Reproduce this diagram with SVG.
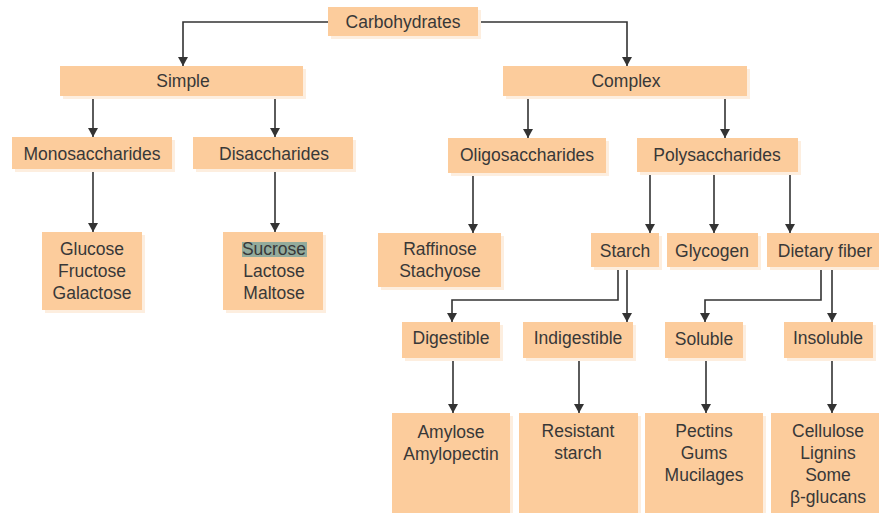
<svg xmlns="http://www.w3.org/2000/svg" width="879" height="513" viewBox="0 0 879 513">
<defs>
<marker id="ah" markerUnits="userSpaceOnUse" markerWidth="10" markerHeight="11" refX="9" refY="5" orient="auto">
<path d="M0,0 L9,5 L0,10 z" fill="#333"/>
</marker>
<style>
.b{fill:#FCCC9C}
.s{fill:#FDEEDF}
.t{font-family:"Liberation Sans",Arial,sans-serif;font-size:17.5px;fill:#383838;text-anchor:middle}
.c{fill:none;stroke:#333;stroke-width:1.6;marker-end:url(#ah)}
</style>
</defs>
<rect width="879" height="513" fill="#fff"/>
<g id="connectors">
<path class="c" d="M328,22 H183 V66"/>
<path class="c" d="M478,22 H627 V66"/>
<path class="c" d="M93,96 V137"/>
<path class="c" d="M275,96 V137"/>
<path class="c" d="M528,96 V138"/>
<path class="c" d="M725,96 V138"/>
<path class="c" d="M93,169 V232"/>
<path class="c" d="M275,169 V232"/>
<path class="c" d="M473,173 V233"/>
<path class="c" d="M650,172 V233"/>
<path class="c" d="M714,172 V233"/>
<path class="c" d="M790,172 V233"/>
<path class="c" d="M618,267 V300 H452 V322"/>
<path class="c" d="M627,267 V322"/>
<path class="c" d="M821,267 V300 H705 V322"/>
<path class="c" d="M832,267 V322"/>
<path class="c" d="M453,358 V413"/>
<path class="c" d="M579,358 V413"/>
<path class="c" d="M706,358 V413"/>
<path class="c" d="M832,358 V413"/>
</g>
<g id="carbohydrates"><rect class="s" x="331" y="10" width="150" height="29"/><rect class="b" x="328" y="7" width="150" height="29"/><text class="t" x="403" y="28">Carbohydrates</text></g>
<g id="simple"><rect class="s" x="63" y="69" width="243" height="30"/><rect class="b" x="60" y="66" width="243" height="30"/><text class="t" x="183" y="87">Simple</text></g>
<g id="complex"><rect class="s" x="506" y="69" width="244" height="30"/><rect class="b" x="503" y="66" width="244" height="30"/><text class="t" x="626" y="87">Complex</text></g>
<g id="monosaccharides"><rect class="s" x="15" y="140" width="160" height="32"/><rect class="b" x="12" y="137" width="160" height="32"/><text class="t" x="92" y="160">Monosaccharides</text></g>
<g id="disaccharides"><rect class="s" x="196" y="140" width="160" height="32"/><rect class="b" x="193" y="137" width="160" height="32"/><text class="t" x="274" y="160">Disaccharides</text></g>
<g id="oligosaccharides"><rect class="s" x="451" y="141" width="158" height="35"/><rect class="b" x="448" y="138" width="158" height="35"/><text class="t" x="527" y="161">Oligosaccharides</text></g>
<g id="polysaccharides"><rect class="s" x="640" y="141" width="161" height="34"/><rect class="b" x="637" y="138" width="161" height="34"/><text class="t" x="717" y="161">Polysaccharides</text></g>
<g id="monos-list"><rect class="s" x="45" y="235" width="100" height="78"/><rect class="b" x="42" y="232" width="100" height="78"/><text class="t" x="92" y="255">Glucose</text><text class="t" x="92" y="277">Fructose</text><text class="t" x="92" y="299">Galactose</text></g>
<g id="dis-list"><rect class="s" x="226" y="235" width="100" height="78"/><rect class="b" x="223" y="232" width="100" height="78"/><rect x="242" y="242" width="65" height="15" fill="#93AB9C"/><text class="t" x="274" y="255">Sucrose</text><text class="t" x="274" y="277">Lactose</text><text class="t" x="274" y="299">Maltose</text></g>
<g id="oligo-list"><rect class="s" x="381" y="236" width="123" height="54"/><rect class="b" x="378" y="233" width="123" height="54"/><text class="t" x="440" y="255">Raffinose</text><text class="t" x="440" y="277">Stachyose</text></g>
<g id="starch"><rect class="s" x="594" y="236" width="68" height="34"/><rect class="b" x="591" y="233" width="68" height="34"/><text class="t" x="625" y="257">Starch</text></g>
<g id="glycogen"><rect class="s" x="670" y="236" width="91" height="34"/><rect class="b" x="667" y="233" width="91" height="34"/><text class="t" x="712" y="257">Glycogen</text></g>
<g id="dietary-fiber"><rect class="s" x="770" y="236" width="112" height="34"/><rect class="b" x="767" y="233" width="112" height="34"/><text class="t" x="825" y="257">Dietary fiber</text></g>
<g id="digestible"><rect class="s" x="405" y="325" width="98" height="36"/><rect class="b" x="402" y="322" width="98" height="36"/><text class="t" x="451" y="344">Digestible</text></g>
<g id="indigestible"><rect class="s" x="526" y="325" width="110" height="36"/><rect class="b" x="523" y="322" width="110" height="36"/><text class="t" x="578" y="344">Indigestible</text></g>
<g id="soluble"><rect class="s" x="668" y="325" width="78" height="36"/><rect class="b" x="665" y="322" width="78" height="36"/><text class="t" x="704" y="345">Soluble</text></g>
<g id="insoluble"><rect class="s" x="787" y="325" width="89" height="36"/><rect class="b" x="784" y="322" width="89" height="36"/><text class="t" x="828" y="344">Insoluble</text></g>
<g id="digestible-list"><rect class="s" x="395" y="416" width="118" height="100"/><rect class="b" x="392" y="413" width="118" height="100"/><text class="t" x="451" y="438">Amylose</text><text class="t" x="451" y="460">Amylopectin</text></g>
<g id="indigestible-list"><rect class="s" x="522" y="416" width="119" height="100"/><rect class="b" x="519" y="413" width="119" height="100"/><text class="t" x="578" y="437">Resistant</text><text class="t" x="578" y="459">starch</text></g>
<g id="soluble-list"><rect class="s" x="648" y="416" width="118" height="100"/><rect class="b" x="645" y="413" width="118" height="100"/><text class="t" x="704" y="437">Pectins</text><text class="t" x="704" y="459">Gums</text><text class="t" x="704" y="481">Mucilages</text></g>
<g id="insoluble-list"><rect class="b" x="771" y="413" width="108" height="100"/><text class="t" x="828" y="437">Cellulose</text><text class="t" x="828" y="459">Lignins</text><text class="t" x="828" y="481">Some</text><text class="t" x="828" y="503">β-glucans</text></g>
</svg>
